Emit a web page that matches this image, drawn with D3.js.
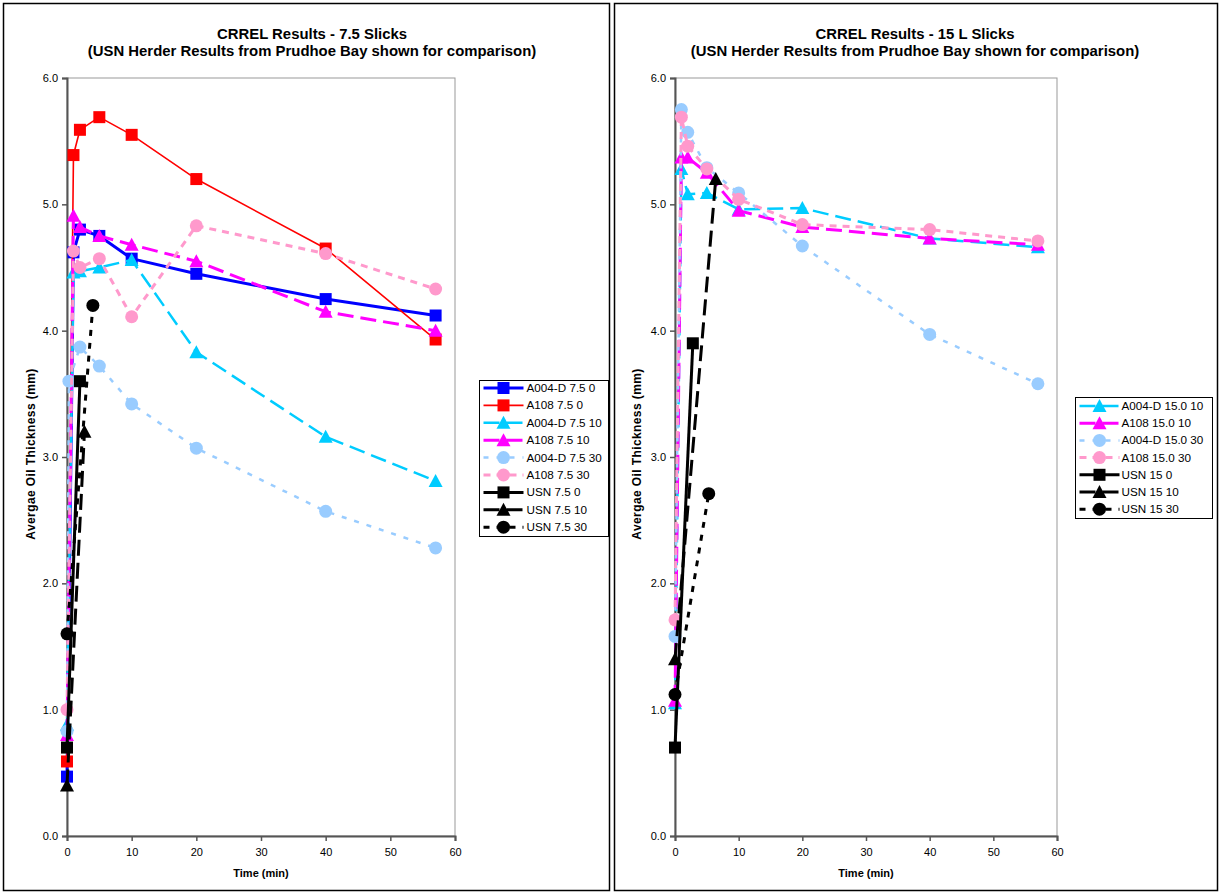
<!DOCTYPE html>
<html>
<head>
<meta charset="utf-8">
<script src="https://cdn.jsdelivr.net/npm/d3@7"></script>
<style>
  body { margin: 0; background: #fff; }
  svg { display: block; font-family: "Liberation Sans", Arial, sans-serif; }
</style>
</head>
<body>
<svg id="chart" width="1220" height="893"></svg>
<script>
// ---- data: [time (min), thickness (mm)] ----
// 7.5 slicks
const a004_75_0  = [[0,0.47],[1,4.62],[2,4.8],[5,4.75],[10,4.57],[20,4.45],[40,4.25],[57,4.12]];
const a108_75_0  = [[0,0.59],[1,5.39],[2,5.59],[5,5.69],[10,5.55],[20,5.2],[40,4.65],[57,3.93]];
const a004_75_10 = [[0,0.88],[1,4.46],[2,4.47],[5,4.5],[10,4.56],[20,3.83],[40,3.16],[57,2.81]];
const a108_75_10 = [[0,0.8],[1,4.91],[2,4.82],[5,4.75],[10,4.68],[20,4.55],[40,4.15],[57,4.0]];
const a004_75_30 = [[0,0.83],[0.3,3.6],[2,3.87],[5,3.72],[10,3.42],[20,3.07],[40,2.57],[57,2.28]];
const a108_75_30 = [[0,1.0],[1,4.63],[2,4.5],[5,4.57],[10,4.11],[20,4.83],[40,4.61],[57,4.33]];
const usn_75_0   = [[0,0.7],[2,3.6]];
const usn_75_10  = [[0,0.4],[2.7,3.2]];
const usn_75_30  = [[0,1.6],[4,4.2]];
// 15 L slicks
const a004_15_10 = [[0,1.05],[1,5.28],[2,5.08],[5,5.09],[10,4.96],[20,4.97],[40,4.73],[57,4.66]];
const a108_15_10 = [[0,1.07],[1,5.37],[2,5.37],[5,5.25],[10,4.95],[20,4.82],[40,4.73],[57,4.68]];
const a004_15_30 = [[0,1.58],[1,5.75],[2,5.57],[5,5.29],[10,5.09],[20,4.67],[40,3.97],[57,3.58]];
const a108_15_30 = [[0,1.71],[1,5.69],[2,5.46],[5,5.28],[10,5.04],[20,4.84],[40,4.8],[57,4.71]];
const usn_15_0   = [[0,0.7],[2.8,3.9]];
const usn_15_10  = [[0,1.4],[6.4,5.2]];
const usn_15_30  = [[0,1.12],[5.3,2.71]];

const xTicks = [0,10,20,30,40,50,60];
const yTicks = [0,1,2,3,4,5,6];

// series look (excel style)
const styles = {
  a004_0:  {color:"#0000ff", width:3,   dash:null,  mark:"square"},
  a108_0:  {color:"#ff0000", width:1.6, dash:null,  mark:"square"},
  a004_10: {color:"#00ccff", width:2.5, dash:"16,7", mark:"triangle"},
  a108_10: {color:"#ff00ff", width:3,   dash:"16,7", mark:"triangle"},
  a004_30: {color:"#99ccff", width:2.5, dash:"5,8", mark:"circle"},
  a108_30: {color:"#ff99cc", width:3,   dash:"7,6", mark:"circle"},
  usn_0:   {color:"#000000", width:3,   dash:null,  mark:"square"},
  usn_10:  {color:"#000000", width:3,   dash:"16,7", mark:"triangle"},
  usn_30:  {color:"#000000", width:3,   dash:"6,7", mark:"circle"}
};

const svg = d3.select("#chart");

function marker(g, type, x, y, color) {
  if (type === "square") {
    g.append("rect").attr("x", x-6).attr("y", y-6).attr("width", 12).attr("height", 12).attr("fill", color);
  } else if (type === "triangle") {
    g.append("path").attr("d", `M${x},${y-7}L${x+7},${y+6}L${x-7},${y+6}Z`).attr("fill", color);
  } else {
    g.append("circle").attr("cx", x).attr("cy", y).attr("r", 6.5).attr("fill", color);
  }
}

function drawPanel(cfg) {
  const g = svg.append("g");
  // outer frame
  g.append("rect").attr("x", cfg.frame[0]).attr("y", 3.5).attr("width", cfg.frame[1]-cfg.frame[0]).attr("height", 887)
    .attr("fill", "none").attr("stroke", "#000").attr("stroke-width", 1.5);

  const x = d3.scaleLinear().domain([0,60]).range([cfg.left, cfg.right]);
  const y = d3.scaleLinear().domain([0,6]).range([836, 78]);

  // plot area border (grey top/right)
  g.append("rect").attr("x", cfg.left).attr("y", 78).attr("width", cfg.right-cfg.left).attr("height", 758)
    .attr("fill", "none").attr("stroke", "#999").attr("stroke-width", 1);

  const xAxis = g.append("g").attr("transform", "translate(0,836)")
    .call(d3.axisBottom(x).tickValues(xTicks).tickSize(5).tickPadding(7).tickFormat(d3.format("d")));
  const yAxis = g.append("g").attr("transform", `translate(${cfg.left},0)`)
    .call(d3.axisLeft(y).tickValues(yTicks).tickSize(5).tickPadding(4).tickFormat(d3.format(".1f")));
  [xAxis, yAxis].forEach(a => {
    a.select(".domain").attr("stroke", "#555").attr("stroke-width", 2);
    a.selectAll(".tick line").attr("stroke", "#555").attr("stroke-width", 1.5);
    a.selectAll("text").attr("font-size", 11).attr("fill", "#000").attr("font-family", "Liberation Sans, Arial, sans-serif");
  });

  // titles
  g.append("text").attr("x", cfg.mid).attr("y", 39).attr("text-anchor", "middle")
    .attr("font-size", 14.9).attr("font-weight", "bold").text(cfg.title);
  g.append("text").attr("x", cfg.mid).attr("y", 56).attr("text-anchor", "middle")
    .attr("font-size", 14.9).attr("font-weight", "bold").text("(USN Herder Results from Prudhoe Bay shown for comparison)");
  g.append("text").attr("x", (cfg.left+cfg.right)/2).attr("y", 877).attr("text-anchor", "middle")
    .attr("font-size", 11).attr("font-weight", "bold").text("Time (min)");
  g.append("text").attr("transform", `translate(${cfg.ytx},454) rotate(-90)`).attr("text-anchor", "middle")
    .attr("font-size", 12).attr("font-weight", "bold").attr("letter-spacing", 0.4).text("Avergae Oil Thickness (mm)");

  const line = d3.line().x(d => x(d[0])).y(d => y(d[1]));

  cfg.series.forEach(s => {
    const st = styles[s.style];
    g.append("path").datum(s.data).attr("d", line).attr("fill", "none")
      .attr("stroke", st.color).attr("stroke-width", st.width)
      .attr("stroke-dasharray", st.dash).attr("stroke-linejoin", "round");
    s.data.forEach(d => marker(g, st.mark, x(d[0]), y(d[1]), st.color));
  });

  // legend
  const L = cfg.legend;
  g.append("rect").attr("x", L.x).attr("y", L.y).attr("width", L.w).attr("height", L.h)
    .attr("fill", "#fff").attr("stroke", "#000").attr("stroke-width", 1);
  cfg.series.forEach((s, i) => {
    const st = styles[s.style];
    const yy = L.row0 + i * L.step;
    g.append("line").attr("x1", L.x + 4).attr("x2", L.x + 44).attr("y1", yy).attr("y2", yy)
      .attr("stroke", st.color).attr("stroke-width", st.width).attr("stroke-dasharray", st.dash);
    marker(g, st.mark, L.x + 24, yy, st.color);
    g.append("text").attr("x", L.x + L.tx).attr("y", yy + 4).attr("font-size", 11.7).text(s.name);
  });
}

drawPanel({
  frame: [3.5, 609.5], left: 67, right: 455, mid: 312, ytx: 35,
  title: "CRREL Results - 7.5 Slicks",
  legend: {x: 479.5, y: 380.5, w: 129, h: 156, row0: 388, step: 17.4, tx: 47},
  series: [
    {name: "A004-D 7.5 0",  style: "a004_0",  data: a004_75_0},
    {name: "A108 7.5 0",    style: "a108_0",  data: a108_75_0},
    {name: "A004-D 7.5 10", style: "a004_10", data: a004_75_10},
    {name: "A108 7.5 10",   style: "a108_10", data: a108_75_10},
    {name: "A004-D 7.5 30", style: "a004_30", data: a004_75_30},
    {name: "A108 7.5 30",   style: "a108_30", data: a108_75_30},
    {name: "USN 7.5 0",     style: "usn_0",   data: usn_75_0},
    {name: "USN 7.5 10",    style: "usn_10",  data: usn_75_10},
    {name: "USN 7.5 30",    style: "usn_30",  data: usn_75_30}
  ]
});

drawPanel({
  frame: [614.5, 1217.5], left: 675, right: 1057, mid: 915, ytx: 641,
  title: "CRREL Results - 15 L Slicks",
  legend: {x: 1075.5, y: 397.5, w: 137, h: 121, row0: 406, step: 17.2, tx: 46},
  series: [
    {name: "A004-D 15.0 10", style: "a004_10", data: a004_15_10},
    {name: "A108 15.0 10",   style: "a108_10", data: a108_15_10},
    {name: "A004-D 15.0 30", style: "a004_30", data: a004_15_30},
    {name: "A108 15.0 30",   style: "a108_30", data: a108_15_30},
    {name: "USN 15 0",       style: "usn_0",   data: usn_15_0},
    {name: "USN 15 10",      style: "usn_10",  data: usn_15_10},
    {name: "USN 15 30",      style: "usn_30",  data: usn_15_30}
  ]
});
</script>
</body>
</html>
